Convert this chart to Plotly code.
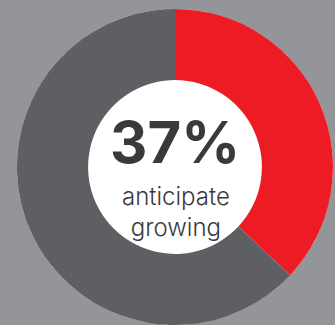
import plotly.graph_objects as go

labels = ["Anticipate growing", "Other"]
values = [37, 63]
colors = ["#ED1C24", "#5E5F62"]
headline = "37%"
subline = "anticipate<br>growing"

W, H = 335, 325
dom_x = [17 / W, 333 / W]
dom_y = [0.0, 1 - 9 / H]

fig = go.Figure()
# white base so the hole shows white
fig.add_trace(go.Pie(values=[1], marker=dict(colors=["#FFFFFF"]), textinfo="none",
                     hoverinfo="skip", sort=False, showlegend=False,
                     domain=dict(x=dom_x, y=dom_y)))
fig.add_trace(go.Pie(labels=labels, values=values, hole=0.55, sort=False,
                     direction="clockwise", rotation=0,
                     marker=dict(colors=colors, line=dict(width=0)),
                     textinfo="none", showlegend=False,
                     domain=dict(x=dom_x, y=dom_y)))

fig.add_annotation(text=headline, x=175 / W, y=1 - 142 / H,
                   xref="paper", yref="paper", showarrow=False,
                   font=dict(family="Inter, Lato, sans-serif", size=58, weight=700,
                             color="#3A3A3C"))
fig.add_annotation(text=subline, x=176 / W, y=1 - 212 / H,
                   xref="paper", yref="paper", showarrow=False,
                   font=dict(family="Inter, Lato, sans-serif", size=24, weight=300,
                             color="#3A3A3C"))

fig.update_layout(width=W, height=H, margin=dict(l=0, r=0, t=0, b=0),
                  paper_bgcolor="#939598", plot_bgcolor="#939598")
fig.write_html("out.html")
